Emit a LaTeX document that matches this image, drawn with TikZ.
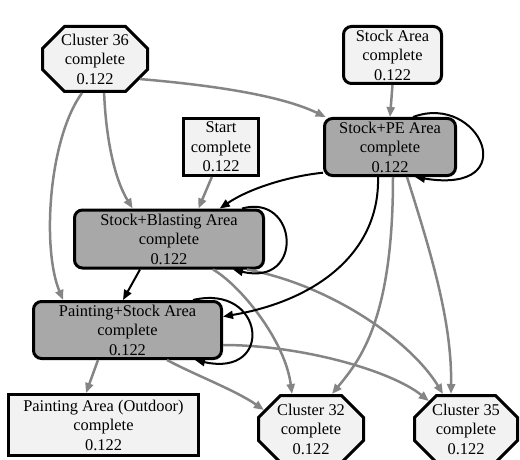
\documentclass[tikz,border=0pt]{standalone}
\usepackage{fontspec}
\setmainfont{Liberation Serif}
\usetikzlibrary{arrows.meta,shapes.misc}
\definecolor{boxlight}{HTML}{F2F2F2}
\definecolor{boxdark}{HTML}{A8A8A8}
\definecolor{edgegray}{HTML}{858585}
\tikzset{
  area/.style={draw, line width=3pt, align=center, inner sep=0pt, font=\fontsize{16.4}{19.5}\selectfont},
  lightarea/.style={area, fill=boxlight, rounded corners=8pt},
  plainarea/.style={area, fill=boxlight},
  busyarea/.style={area, fill=boxdark, rounded corners=8pt},
  cluster/.style={area, fill=boxlight, chamfered rectangle, chamfered rectangle xsep=16pt, chamfered rectangle ysep=6pt},
  flow/.style={edgegray, line width=2.5pt, -{Triangle[length=10pt,width=8pt]}},
  pushflow/.style={black, line width=2pt, -{Triangle[length=10pt,width=8pt]}}
}

\begin{document}
\begin{tikzpicture}[x=1pt, y=1pt]
  \useasboundingbox (0,0) rectangle (520,-460);

  \node[cluster, minimum width=105pt, minimum height=65pt] (c36) at (95,-59) {Cluster 36\\complete\\0.122};
  \node[lightarea, minimum width=98pt, minimum height=57pt] (stockarea) at (392.5,-55) {Stock Area\\complete\\0.122};
  \node[plainarea, minimum width=75pt, minimum height=57pt] (start) at (221,-147) {Start\\complete\\0.122};
  \node[busyarea, minimum width=131pt, minimum height=57pt] (stockpe) at (390,-147) {Stock+PE Area\\complete\\0.122};
  \node[busyarea, minimum width=189pt, minimum height=58pt] (stockblast) at (169,-239) {Stock+Blasting Area\\complete\\0.122};
  \node[busyarea, minimum width=188pt, minimum height=57pt] (paintstock) at (127.5,-330) {Painting+Stock Area\\complete\\0.122};
  \node[plainarea, minimum width=190pt, minimum height=61pt] (paintout) at (103.5,-425) {Painting Area (Outdoor)\\complete\\0.122};
  \node[cluster, minimum width=105pt, minimum height=67pt] (c32) at (311,-429) {Cluster 32\\complete\\0.122};
  \node[cluster, minimum width=103pt, minimum height=67pt] (c35) at (466,-429) {Cluster 35\\complete\\0.122};

  % grey edges
  \draw[flow] (c36.-24) .. controls (210,-85) and (280,-95) .. (stockpe.155);
  \draw[flow] (c36.-75) .. controls (106,-140) and (115,-180) .. (stockblast.140);
  \draw[flow] (c36.-111) .. controls (48,-140) and (42,-250) .. (paintstock.155);
  \draw[flow] (start.-107) -- (stockblast.46);
  \draw[flow] (stockarea.south) -- (stockpe.north);
  \draw[flow] ([xshift=3pt]stockpe.south) .. controls (393,-320) and (360,-360) .. ([xshift=21pt]c32.north);
  \draw[flow] ([xshift=17pt]stockpe.south) .. controls (430,-250) and (452,-320) .. ([xshift=-15pt]c35.north);
  \draw[flow] ([xshift=44pt]stockblast.south) .. controls (240,-285) and (285,-340) .. ([xshift=-19pt]c32.north);
  \draw[flow] ([xshift=78pt]stockblast.south) .. controls (330,-285) and (410,-340) .. ([xshift=-23pt]c35.north);
  \draw[flow] ([xshift=-29.5pt]paintstock.south) -- ([xshift=-17.5pt]paintout.north);
  \draw[flow] ([xshift=39.5pt]paintstock.south) .. controls (195,-375) and (235,-390) .. (c32.158);
  \draw[flow] ([yshift=-15pt]paintstock.east) .. controls (300,-345) and (390,-370) .. (c35.143);

  % black edges and self loops
  \draw[pushflow] ([xshift=23pt]stockpe.north) .. controls (480,-92) and (525,-195) .. ([xshift=25pt]stockpe.south);
  \draw[pushflow] (stockpe.-159) .. controls (290,-176) and (250,-188) .. (stockblast.31);
  \draw[pushflow] ([xshift=-12pt]stockpe.south) .. controls (380,-250) and (320,-300) .. (paintstock.8);
  \draw[pushflow] ([xshift=73pt]stockblast.north) .. controls (298,-193) and (305,-287) .. ([xshift=64pt]stockblast.south);
  \draw[pushflow] ([xshift=-29pt]stockblast.south) -- ([xshift=-4.5pt]paintstock.north);
  \draw[pushflow] ([xshift=65.5pt]paintstock.north) .. controls (265,-283) and (275,-378) .. ([xshift=67.5pt]paintstock.south);
\end{tikzpicture}
\end{document}
